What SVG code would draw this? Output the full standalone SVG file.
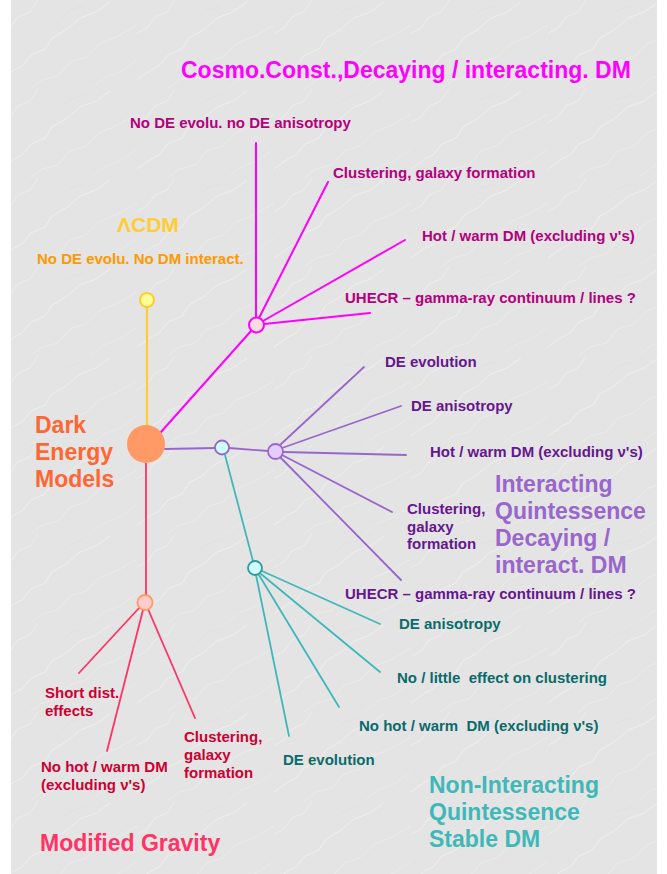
<svg xmlns="http://www.w3.org/2000/svg" width="667" height="874" viewBox="0 0 667 874">
<defs>
<pattern id="marble" x="0" y="0" width="137" height="89" patternUnits="userSpaceOnUse">
<rect width="137" height="89" fill="#e4e4e4"/>
<path d="M0 80 L14 70 L22 66 L31 55 L45 49 L52 38 L66 30 L80 18 L96 12 L110 2" fill="none" stroke="#efefef" stroke-width="1"/>
<path d="M30 89 L42 80 L58 76 L70 62 L86 57 L99 44 L118 36 L137 25" fill="none" stroke="#ececec" stroke-width="0.8"/>
<path d="M-3 35 L10 28 L18 17 L30 12 L38 0" fill="none" stroke="#f0f0f0" stroke-width="0.7"/>
<path d="M90 89 L104 78 L120 72 L137 60" fill="none" stroke="#ebebeb" stroke-width="0.7"/>
<path d="M60 20 L70 10 L84 6" fill="none" stroke="#dedede" stroke-width="0.6"/>
</pattern>
<style>
text{font-family:"Liberation Sans",Arial,sans-serif;font-weight:bold}
.s{font-size:15px}
.b{font-size:23px}
.mag{fill:#b3007d}
.pur{fill:#66168f}
.teal{fill:#0a6b6b}
.red{fill:#cc0033}
line{stroke-linecap:round}
.lm{stroke:#ff00ff;stroke-width:2}
.lp{stroke:#9966cc;stroke-width:1.8}
.lt{stroke:#40b8b8;stroke-width:1.8}
.lr{stroke:#ff3366;stroke-width:1.8}
.ly{stroke:#ffcc33;stroke-width:2.2}
</style>
</defs>
<rect x="0" y="0" width="667" height="874" fill="#ffffff"/>
<rect x="11" y="0" width="646" height="874" fill="url(#marble)"/>

<g id="connectors">
<line class="ly" x1="147" y1="307" x2="147" y2="425"/>
<line class="lm" x1="161" y1="432" x2="251" y2="331"/>
<line class="lm" x1="256" y1="317" x2="256" y2="143"/>
<line class="lm" x1="259" y1="318" x2="328" y2="182"/>
<line class="lm" x1="263" y1="321" x2="405" y2="240"/>
<line class="lm" x1="264" y1="324" x2="370" y2="313"/>
<line class="lp" x1="165" y1="449" x2="215" y2="448"/>
<line class="lp" x1="229" y1="448" x2="268" y2="451"/>
<line class="lp" x1="280" y1="445" x2="364" y2="367"/>
<line class="lp" x1="282" y1="448" x2="401" y2="406"/>
<line class="lp" x1="283" y1="452" x2="406" y2="455"/>
<line class="lp" x1="282" y1="455" x2="392" y2="512"/>
<line class="lp" x1="280" y1="457" x2="401" y2="580"/>
<line class="lt" x1="225" y1="455" x2="253" y2="561"/>
<line class="lt" x1="262" y1="571" x2="380" y2="624"/>
<line class="lt" x1="261" y1="574" x2="380" y2="672"/>
<line class="lt" x1="259" y1="575" x2="339" y2="707"/>
<line class="lt" x1="256" y1="575" x2="289" y2="736"/>
<line class="lr" x1="146" y1="463" x2="146" y2="595"/>
<line class="lr" x1="140" y1="607" x2="79" y2="673"/>
<line class="lr" x1="143" y1="610" x2="107" y2="751"/>
<line class="lr" x1="148" y1="609" x2="195" y2="718"/>
</g>

<g id="dark-energy">
<circle cx="146" cy="444" r="19" fill="#ff9966"/>
<text class="b" x="35" y="433" fill="#ff6633">Dark</text>
<text class="b" x="35" y="460" fill="#ff6633">Energy</text>
<text class="b" x="35" y="487" fill="#ff6633">Models</text>
</g>

<g id="lcdm">
<circle cx="147" cy="300" r="7" fill="#ffff99" stroke="#ffcc33" stroke-width="2"/>
<text x="117" y="232" style="font-size:21px" fill="#ffcc33">ΛCDM</text>
<text class="s" x="37" y="264" fill="#ff9900">No DE evolu. No DM interact.</text>
</g>

<g id="cosmo-const">
<circle cx="256.5" cy="325" r="7.5" fill="#ffdddd" stroke="#ff00ff" stroke-width="2"/>
<text class="b" x="181" y="78" fill="#ff00ff">Cosmo.Const.,Decaying / interacting. DM</text>
<text class="s mag" x="130" y="128">No DE evolu. no DE anisotropy</text>
<text class="s mag" x="333" y="178">Clustering, galaxy formation</text>
<text class="s mag" x="422" y="241">Hot / warm DM (excluding ν's)</text>
<text class="s mag" x="345" y="303">UHECR – gamma-ray continuum / lines ?</text>
</g>

<g id="quintessence-split">
<circle cx="222" cy="447.5" r="7" fill="#ccffff" stroke="#9966cc" stroke-width="1.8"/>
</g>

<g id="interacting-quintessence">
<circle cx="275.5" cy="451.5" r="7.5" fill="#e6ccff" stroke="#9966cc" stroke-width="1.8"/>
<text class="s pur" x="385" y="367">DE evolution</text>
<text class="s pur" x="411" y="411">DE anisotropy</text>
<text class="s pur" x="430" y="457">Hot / warm DM (excluding ν's)</text>
<text class="s pur" x="407" y="514">Clustering,</text>
<text class="s pur" x="407" y="532">galaxy</text>
<text class="s pur" x="407" y="549">formation</text>
<text class="s pur" x="345" y="599">UHECR – gamma-ray continuum / lines ?</text>
<text class="b" x="495" y="492" fill="#9966cc">Interacting</text>
<text class="b" x="495" y="519" fill="#9966cc">Quintessence</text>
<text class="b" x="495" y="546" fill="#9966cc">Decaying /</text>
<text class="b" x="495" y="573" fill="#9966cc">interact. DM</text>
</g>

<g id="non-interacting-quintessence">
<circle cx="255" cy="568" r="7" fill="#ccffff" stroke="#339999" stroke-width="1.8"/>
<text class="s teal" x="399" y="629">DE anisotropy</text>
<text class="s teal" x="397" y="683" xml:space="preserve">No / little  effect on clustering</text>
<text class="s teal" x="359" y="731" xml:space="preserve">No hot / warm  DM (excluding ν's)</text>
<text class="s teal" x="283" y="765">DE evolution</text>
<text class="b" x="429" y="793" fill="#40b8b8">Non-Interacting</text>
<text class="b" x="429" y="820" fill="#40b8b8">Quintessence</text>
<text class="b" x="429" y="847" fill="#40b8b8">Stable DM</text>
</g>

<g id="modified-gravity">
<circle cx="145" cy="602.5" r="7.5" fill="#ffcccc" stroke="#ff9966" stroke-width="1.8"/>
<text class="s red" x="45" y="698">Short dist.</text>
<text class="s red" x="45" y="716">effects</text>
<text class="s red" x="41" y="772">No hot / warm DM</text>
<text class="s red" x="41" y="790">(excluding ν's)</text>
<text class="s red" x="184" y="742">Clustering,</text>
<text class="s red" x="184" y="760">galaxy</text>
<text class="s red" x="184" y="778">formation</text>
<text class="b" x="40" y="851" fill="#ff3366">Modified Gravity</text>
</g>
</svg>
